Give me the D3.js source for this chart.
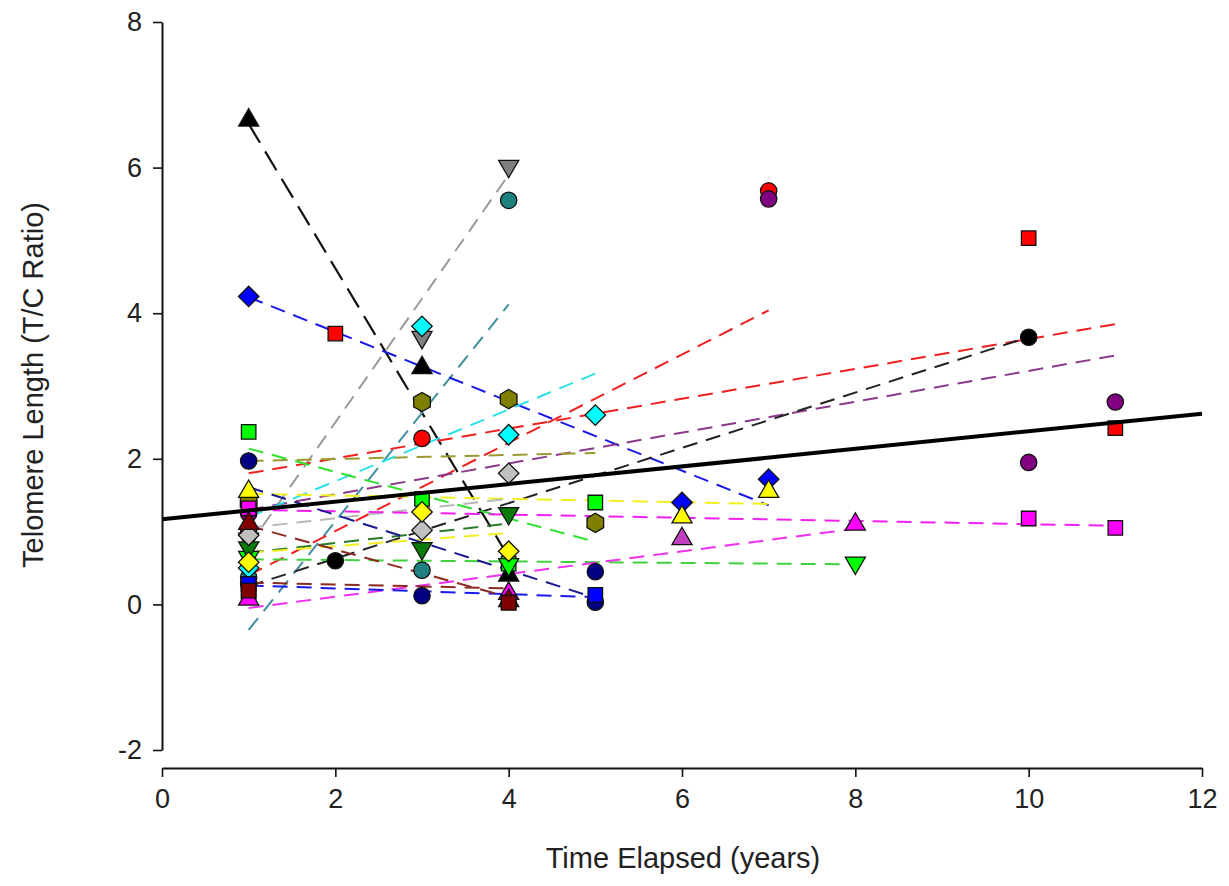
<!DOCTYPE html>
<html><head><meta charset="utf-8">
<script src="https://cdn.jsdelivr.net/npm/d3@7"></script>
<style>
html,body{margin:0;padding:0;background:#fff;}
svg{display:block;}
text{font-family:"Liberation Sans Narrow","Liberation Sans",Arial,sans-serif;fill:#222;}
</style></head>
<body>
<svg id="chart" width="1229" height="886"></svg>
<script>
// ---------- data ----------
const xTicks = [0, 2, 4, 6, 8, 10, 12];
const yTicks = [-2, 0, 2, 4, 6, 8];
const xTitle = "Time Elapsed (years)";
const yTitle = "Telomere Length (T/C Ratio)";

// overall fit (years 0 .. 12)
const overallX = [0, 12];
const overallY = [1.17, 2.62];

// per-subject observations: years, T/C ratio, fitted values at first/last year
const subjectNames = ["blackTri","grayTriDown","tealCircle","blueDiamond","redSquare","redCircle",
  "purpleCircle","blackCircle","oliveHex","cyanDiamond","greenSquare","greenTriDown","darkGreenTriDown",
  "yellowTri","grayDiamond","yellowDiamond","magentaSquare","magentaTri","violetTri","navyCircle",
  "blueSquare","maroonTri","maroonSquare"];

const blackTri_x = [1, 3, 4],        blackTri_y = [6.65, 3.25, 0.40],       blackTri_fit = [6.60, 0.65];
const grayTriDown_x = [1, 3, 4],     grayTriDown_y = [0.90, 3.67, 6.02],    grayTriDown_fit = [0.80, 5.90];
const tealCircle_x = [1, 3, 4],      tealCircle_y = [0.37, 0.47, 5.55],     tealCircle_fit = [-0.35, 4.12];
const blueDiamond_x = [1, 6, 7],     blueDiamond_y = [4.23, 1.40, 1.72],    blueDiamond_fit = [4.22, 1.36];
const redSquare_x = [1, 2, 10, 11],  redSquare_y = [0.17, 3.72, 5.03, 2.42], redSquare_fit = [1.80, 3.85];
const redCircle_x = [1, 3, 7],       redCircle_y = [1.02, 2.28, 5.68],      redCircle_fit = [0.40, 4.04];
const purpleCircle_x = [1, 7, 10, 11], purpleCircle_y = [1.25, 5.57, 1.95, 2.78], purpleCircle_fit = [1.30, 3.42];
const blackCircle_x = [1, 2, 10],    blackCircle_y = [0.28, 0.60, 3.67],    blackCircle_fit = [0.25, 3.67];
const oliveHex_x = [1, 3, 4, 5],     oliveHex_y = [1.40, 2.78, 2.82, 1.12], oliveHex_fit = [1.97, 2.08];
const cyanDiamond_x = [1, 3, 4, 5],  cyanDiamond_y = [0.50, 3.82, 2.33, 2.60], cyanDiamond_fit = [1.20, 3.17];
const greenSquare_x = [1, 3, 4, 5],  greenSquare_y = [2.37, 1.45, 0.56, 1.40], greenSquare_fit = [2.14, 0.86];
const greenTriDown_x = [1, 4, 8],    greenTriDown_y = [0.65, 0.55, 0.57],   greenTriDown_fit = [0.62, 0.55];
const darkGreenTriDown_x = [1, 3, 4], darkGreenTriDown_y = [0.78, 0.77, 1.25], darkGreenTriDown_fit = [0.71, 1.11];
const yellowTri_x = [1, 6, 7],       yellowTri_y = [1.55, 1.20, 1.55],      yellowTri_fit = [1.52, 1.38];
const grayDiamond_x = [1, 3, 4],     grayDiamond_y = [0.95, 1.02, 1.80],    grayDiamond_fit = [1.05, 1.45];
const yellowDiamond_x = [1, 3, 4],   yellowDiamond_y = [0.58, 1.27, 0.73],  yellowDiamond_fit = [0.71, 0.98];
const magentaSquare_x = [1, 10, 11], magentaSquare_y = [1.32, 1.18, 1.05],  magentaSquare_fit = [1.30, 1.08];
const magentaTri_x = [1, 4, 8],      magentaTri_y = [0.07, 0.15, 1.10],     magentaTri_fit = [-0.05, 1.04];
const violetTri_x = [6],             violetTri_y = [0.90],                  violetTri_fit = null;
const navyCircle_x = [1, 3, 5, 5],   navyCircle_y = [1.97, 0.12, 0.45, 0.03], navyCircle_fit = [1.61, 0.09];
const blueSquare_x = [1, 4, 5],      blueSquare_y = [0.28, 0.03, 0.13],     blueSquare_fit = [0.26, 0.10];
const maroonTri_x = [1, 4],          maroonTri_y = [1.11, 0.05],            maroonTri_fit = [1.08, 0.10];
const maroonSquare_x = [1, 4],       maroonSquare_y = [0.19, 0.02],         maroonSquare_fit = [0.30, 0.22];

const subjectData = {
  blackTri:[blackTri_x,blackTri_y,blackTri_fit], grayTriDown:[grayTriDown_x,grayTriDown_y,grayTriDown_fit],
  tealCircle:[tealCircle_x,tealCircle_y,tealCircle_fit], blueDiamond:[blueDiamond_x,blueDiamond_y,blueDiamond_fit],
  redSquare:[redSquare_x,redSquare_y,redSquare_fit], redCircle:[redCircle_x,redCircle_y,redCircle_fit],
  purpleCircle:[purpleCircle_x,purpleCircle_y,purpleCircle_fit], blackCircle:[blackCircle_x,blackCircle_y,blackCircle_fit],
  oliveHex:[oliveHex_x,oliveHex_y,oliveHex_fit], cyanDiamond:[cyanDiamond_x,cyanDiamond_y,cyanDiamond_fit],
  greenSquare:[greenSquare_x,greenSquare_y,greenSquare_fit], greenTriDown:[greenTriDown_x,greenTriDown_y,greenTriDown_fit],
  darkGreenTriDown:[darkGreenTriDown_x,darkGreenTriDown_y,darkGreenTriDown_fit], yellowTri:[yellowTri_x,yellowTri_y,yellowTri_fit],
  grayDiamond:[grayDiamond_x,grayDiamond_y,grayDiamond_fit], yellowDiamond:[yellowDiamond_x,yellowDiamond_y,yellowDiamond_fit],
  magentaSquare:[magentaSquare_x,magentaSquare_y,magentaSquare_fit], magentaTri:[magentaTri_x,magentaTri_y,magentaTri_fit],
  violetTri:[violetTri_x,violetTri_y,violetTri_fit], navyCircle:[navyCircle_x,navyCircle_y,navyCircle_fit],
  blueSquare:[blueSquare_x,blueSquare_y,blueSquare_fit], maroonTri:[maroonTri_x,maroonTri_y,maroonTri_fit],
  maroonSquare:[maroonSquare_x,maroonSquare_y,maroonSquare_fit]
};

// ---------- styles ----------
const style = {
  blackTri:{fill:"#000000", line:"#111111", shape:"triUp", dash:"22,10", lw:2.2},
  grayTriDown:{fill:"#7f7f7f", line:"#9a9a9a", shape:"triDown"},
  tealCircle:{fill:"#1f8080", line:"#3f8f9f", shape:"circle"},
  blueDiamond:{fill:"#0000ff", line:"#1a1ae0", shape:"diamond"},
  redSquare:{fill:"#ff0000", line:"#ee2020", shape:"square"},
  redCircle:{fill:"#ff0000", line:"#ee2020", shape:"circle"},
  purpleCircle:{fill:"#800080", line:"#8a3a8a", shape:"circle"},
  blackCircle:{fill:"#000000", line:"#222222", shape:"circle"},
  oliveHex:{fill:"#808000", line:"#9a9a30", shape:"hex"},
  cyanDiamond:{fill:"#00ffff", line:"#30e0e8", shape:"diamond"},
  greenSquare:{fill:"#00ff00", line:"#30e030", shape:"square"},
  greenTriDown:{fill:"#00ff00", line:"#40d040", shape:"triDown"},
  darkGreenTriDown:{fill:"#0a7a0a", line:"#2a7a2a", shape:"triDown"},
  yellowTri:{fill:"#ffff00", line:"#f0f020", shape:"triUp"},
  grayDiamond:{fill:"#c0c0c0", line:"#b8b8b8", shape:"diamond"},
  yellowDiamond:{fill:"#ffff00", line:"#f0f020", shape:"diamond"},
  magentaSquare:{fill:"#ff00ff", line:"#f020f0", shape:"square"},
  magentaTri:{fill:"#ff00ff", line:"#f030f0", shape:"triUp"},
  violetTri:{fill:"#c040c0", line:"#c040c0", shape:"triUp"},
  navyCircle:{fill:"#000080", line:"#1a1a90", shape:"circle"},
  blueSquare:{fill:"#0000ff", line:"#1a1ae8", shape:"square"},
  maroonTri:{fill:"#800000", line:"#8a2a20", shape:"triUp"},
  maroonSquare:{fill:"#800000", line:"#8a2a20", shape:"square"}
};

// ---------- chart ----------
const svg = d3.select("#chart");
const x = d3.scaleLinear().domain([0, 12]).range([162, 1202]);
const y = d3.scaleLinear().domain([-2, 8]).range([750, 22]);

// subject fit lines
const lineGen = d3.line().x(d => x(d[0])).y(d => y(d[1]));
const gLines = svg.append("g");
subjectNames.forEach(name => {
  const [xs, ys, fit] = subjectData[name];
  if (!fit) return;
  const x0 = d3.min(xs), x1 = d3.max(xs);
  const st = style[name];
  gLines.append("path")
    .attr("d", lineGen([[x0, fit[0]], [x1, fit[1]]]))
    .attr("fill", "none")
    .attr("stroke", st.line)
    .attr("stroke-width", st.lw || 2)
    .attr("stroke-dasharray", st.dash || "15,9");
});

// markers
function shapePath(shape) {
  if (shape === "circle") return d3.symbol(d3.symbolCircle, 210)();
  if (shape === "square") return d3.symbol(d3.symbolSquare, 210)();
  if (shape === "triUp") return d3.symbol(d3.symbolTriangle, 175)();
  if (shape === "triDown") return d3.symbol(d3.symbolTriangle, 175)();
  if (shape === "diamond") return d3.symbol(d3.symbolSquare, 210)();
  if (shape === "hex") {
    const r = 9.6;
    return d3.range(6).map(i => {
      const a = Math.PI / 3 * i + Math.PI / 6;
      return (i ? "L" : "M") + (r * Math.cos(a)).toFixed(2) + "," + (r * Math.sin(a)).toFixed(2);
    }).join("") + "Z";
  }
}
function shapeRot(shape) {
  if (shape === "triDown") return 180;
  if (shape === "diamond") return 45;
  return 0;
}
const gPts = svg.append("g");
subjectNames.forEach(name => {
  const [xs, ys] = subjectData[name];
  const st = style[name];
  const pts = xs.map((v, i) => [v, ys[i]]);
  gPts.selectAll(null).data(pts).enter().append("path")
    .attr("d", shapePath(st.shape))
    .attr("transform", d => `translate(${x(d[0])},${y(d[1])}) rotate(${shapeRot(st.shape)})`)
    .attr("fill", st.fill)
    .attr("stroke", "#111")
    .attr("stroke-width", 1.3);
});

// overall fit
svg.append("path")
  .attr("d", lineGen(overallX.map((v, i) => [v, overallY[i]])))
  .attr("fill", "none").attr("stroke", "#000").attr("stroke-width", 4);

// axes
const fmt = d => String(d);
const yAxis = svg.append("g").attr("transform", "translate(162,0)")
  .call(d3.axisLeft(y).tickValues(yTicks).tickSize(9).tickSizeOuter(0).tickPadding(11).tickFormat(fmt));
const xAxis = svg.append("g").attr("transform", "translate(0,768)")
  .call(d3.axisBottom(x).tickValues(xTicks).tickSize(9).tickSizeOuter(0).tickPadding(12).tickFormat(fmt));
[yAxis, xAxis].forEach(g => {
  g.attr("font-size", 27);
  g.selectAll(".domain").attr("stroke", "#111").attr("stroke-width", 2);
  g.selectAll(".tick line").attr("stroke", "#111").attr("stroke-width", 1.6);
  g.selectAll("text").attr("font-size", 27).attr("fill", "#222")
    .style("font-family", '"Liberation Sans Narrow","Liberation Sans",Arial,sans-serif');
});

svg.append("text").attr("x", 683).attr("y", 868).attr("text-anchor", "middle")
  .attr("font-size", 29).text(xTitle);
svg.append("text").attr("transform", "translate(43,385) rotate(-90)").attr("text-anchor", "middle")
  .attr("font-size", 29).text(yTitle);
</script>
</body></html>
